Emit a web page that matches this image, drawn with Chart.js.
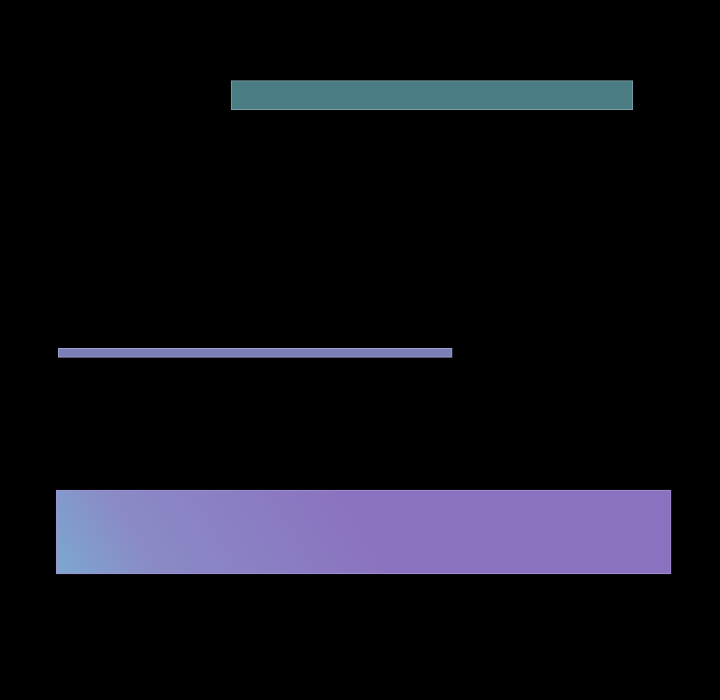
<!DOCTYPE html>
<html>
<head>
<meta charset="utf-8">
<script src="https://cdn.jsdelivr.net/npm/chart.js@4/dist/chart.umd.min.js"></script>
<style>
  html, body { margin: 0; padding: 0; background: #000; }
  #wrap { width: 720px; height: 700px; }
</style>
</head>
<body>
<div id="wrap"><canvas id="bars"></canvas></div>
<script>
// rows on a 0-100 vertical scale, ranges on a 0-100 horizontal scale
const rows = [13.6, 50.4, 76.0];
const starts = [32.1, 8.1, 7.8];
const ends = [87.9, 62.8, 93.2];

function purpleFill(ctx) {
    const area = ctx.chart.chartArea;
    if (!area) return '#8b72c0';
    const g = ctx.chart.ctx.createLinearGradient(56, 610, 320, 450);
    g.addColorStop(0, '#79aed2');
    g.addColorStop(0.35, '#8a8ac6');
    g.addColorStop(1, '#8b72c0');
    return g;
}

const fills = ['#4a7c84', '#7b80b8', purpleFill];
const edges = ['#7fa2a8', '#9ea2d0', '#a093cf'];
const thick = [29, 9, 84];

const datasets = rows.map(function (r, i) {
    return {
        data: [{ x: [starts[i], ends[i]], y: r }],
        backgroundColor: fills[i],
        borderColor: edges[i],
        borderWidth: 1,
        borderSkipped: false,
        barThickness: thick[i],
        grouped: false
    };
});

new Chart(document.getElementById('bars'), {
    type: 'bar',
    data: { datasets: datasets },
    options: {
        indexAxis: 'y',
        responsive: true,
        maintainAspectRatio: false,
        animation: false,
        layout: { padding: 0 },
        plugins: { legend: { display: false }, tooltip: { enabled: false } },
        scales: {
            x: { type: 'linear', min: 0, max: 100, display: false },
            y: { type: 'linear', min: 0, max: 100, reverse: true, offset: false, display: false }
        }
    }
});
</script>
</body>
</html>
